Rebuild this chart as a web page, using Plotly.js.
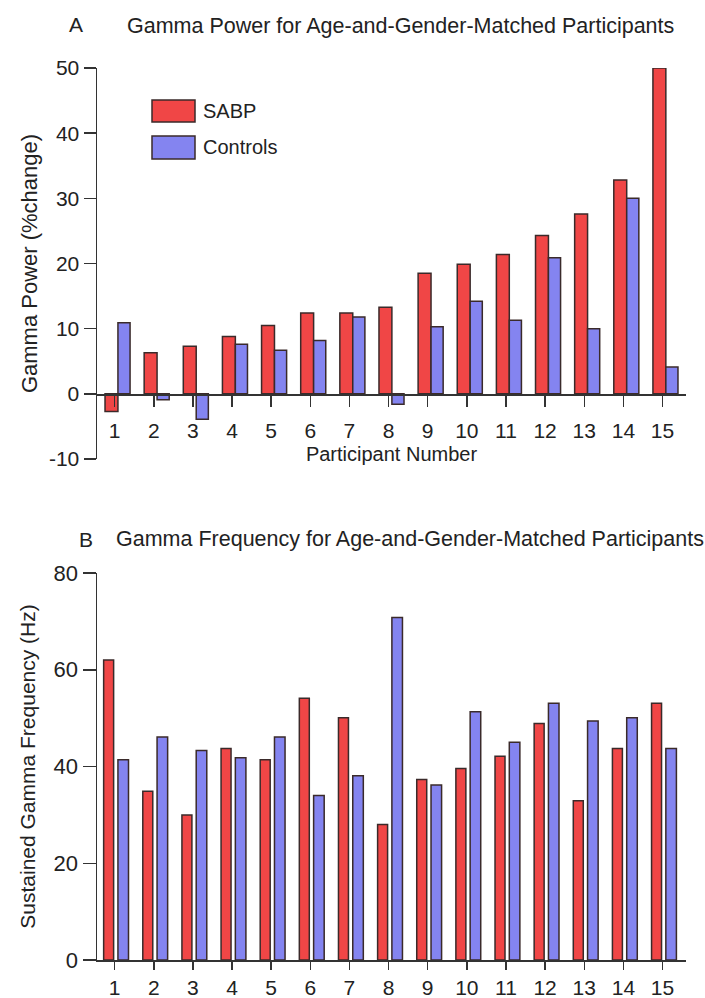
<!DOCTYPE html>
<html>
<head>
<meta charset="utf-8">
<script src="https://cdn.plot.ly/plotly-3.0.1.min.js"></script>
<style>html,body{margin:0;padding:0;background:#fff;}#chart{width:705px;height:998px;}</style>
</head>
<body>
<div id="chart"></div>
<script>
// ---- data ----
const participants = [1,2,3,4,5,6,7,8,9,10,11,12,13,14,15];
const participantLabels = ["1","2","3","4","5","6","7","8","9","10","11","12","13","14","15"];
const sabpPower     = [-2.7, 6.3, 7.3, 8.8, 10.5, 12.4, 12.4, 13.3, 18.5, 19.9, 21.4, 24.3, 27.6, 32.8, 50.0];
const controlsPower = [10.9, -0.9, -3.9, 7.6, 6.7, 8.2, 11.8, -1.6, 10.3, 14.2, 11.3, 20.9, 10.0, 30.0, 4.1];
const sabpFreq      = [62.0, 34.9, 30.0, 43.7, 41.4, 54.1, 50.1, 28.0, 37.3, 39.6, 42.1, 48.9, 32.9, 43.7, 53.1];
const controlsFreq  = [41.4, 46.1, 43.3, 41.8, 46.1, 34.0, 38.1, 70.8, 36.2, 51.3, 45.0, 53.1, 49.4, 50.1, 43.7];
const seriesNames = ["SABP", "Controls"];
const powerTicks = [-10, 0, 10, 20, 30, 40, 50];
const powerTickLabels = ["-10", "0", "10", "20", "30", "40", "50"];
const freqTicks = [0, 20, 40, 60, 80];
const freqTickLabels = ["0", "20", "40", "60", "80"];

// ---- styles ----
const FONT = "Liberation Sans, Arial, Helvetica, sans-serif";
const TXT = "#222";
const RED = "#f04646";
const BLUE = "#8484f0";
const EDGE = "#3a2a2a";

function bar(x, y, name, color, xa, ya, offset, width) {
  return {type: "bar", x: x, y: y, name: name, xaxis: xa, yaxis: ya,
    offset: offset, width: width, showlegend: false,
    marker: {color: color, line: {color: EDGE, width: 1.5}}};
}

const traces = [
  bar(participants, sabpPower, seriesNames[0], RED, "x", "y", -0.245, 0.33),
  bar(participants, controlsPower, seriesNames[1], BLUE, "x", "y", 0.085, 0.31),
  bar(participants, sabpFreq, seriesNames[0], RED, "x2", "y2", -0.28, 0.255),
  bar(participants, controlsFreq, seriesNames[1], BLUE, "x2", "y2", 0.085, 0.27)
];

const T = 68, B = 38, H = 998, W = 705, L = 97, R = 19;
const plotH = H - T - B, plotW = W - L - R;
const py = p => (H - B - p) / plotH;   // pixel y -> paper
const px = p => (p - L) / plotW;       // pixel x -> paper

const axisLine = {showline: true, linecolor: "#333", linewidth: 1.5, showgrid: false, zeroline: false,
  ticks: "outside", tickcolor: "#333", tickwidth: 1.5};

const layout = {
  width: W, height: H,
  margin: {l: L, r: R, t: T, b: B},
  paper_bgcolor: "#fff", plot_bgcolor: "#fff",
  font: {family: FONT, color: TXT},
  barmode: "overlay",
  title: {text: "Gamma Power for Age-and-Gender-Matched Participants",
    font: {size: 21.5, family: FONT, color: TXT},
    xref: "container", yref: "container", x: 127 / W, xanchor: "left", y: 1 - 25 / H, yanchor: "middle"},
  xaxis: Object.assign({}, axisLine, {
    domain: [0, 1], range: [0.55, 15.6], anchor: "free", position: py(394),
    tickmode: "array", tickvals: participants, ticktext: participantLabels, ticklen: 11,
    ticklabelstandoff: 6,
    tickfont: {size: 21, color: TXT},
    title: {text: "Participant Number", font: {size: 20, color: TXT}, standoff: 6}
  }),
  yaxis: Object.assign({}, axisLine, {
    domain: [py(459), 1], range: [-10, 50], anchor: "x",
    tickmode: "array", tickvals: powerTicks, ticktext: powerTickLabels, ticklen: 12,
    tickfont: {size: 21, color: TXT},
    title: {text: "Gamma Power (%change)", font: {size: 22, color: TXT}, standoff: 5}
  }),
  xaxis2: Object.assign({}, axisLine, {
    domain: [0, 1], range: [0.55, 15.6], anchor: "y2",
    tickmode: "array", tickvals: participants, ticktext: participantLabels, ticklen: 8,
    tickfont: {size: 21, color: TXT}
  }),
  yaxis2: Object.assign({}, axisLine, {
    domain: [0, py(573)], range: [0, 80], anchor: "x2",
    tickmode: "array", tickvals: freqTicks, ticktext: freqTickLabels, ticklen: 13,
    tickfont: {size: 22, color: TXT},
    title: {text: "Sustained Gamma Frequency (Hz)", font: {size: 21, color: TXT}, standoff: 12}
  }),
  shapes: [
    {type: "rect", xref: "paper", yref: "paper", x0: px(152), x1: px(195), y0: py(122), y1: py(100),
      fillcolor: RED, line: {color: EDGE, width: 1.5}},
    {type: "rect", xref: "paper", yref: "paper", x0: px(152), x1: px(195), y0: py(159), y1: py(136),
      fillcolor: BLUE, line: {color: EDGE, width: 1.5}}
  ],
  annotations: [
    {text: seriesNames[0], xref: "paper", yref: "paper", x: px(201), y: py(111), xanchor: "left", yanchor: "middle",
      showarrow: false, font: {size: 20, color: TXT}},
    {text: seriesNames[1], xref: "paper", yref: "paper", x: px(201), y: py(147), xanchor: "left", yanchor: "middle",
      showarrow: false, font: {size: 20, color: TXT}},
    {text: "A", xref: "paper", yref: "paper", x: px(67), y: py(25), xanchor: "left", yanchor: "middle",
      showarrow: false, font: {size: 21, color: TXT}},
    {text: "B", xref: "paper", yref: "paper", x: px(77), y: py(539), xanchor: "left", yanchor: "middle",
      showarrow: false, font: {size: 21, color: TXT}},
    {text: "Gamma Frequency for Age-and-Gender-Matched Participants", xref: "paper", yref: "paper",
      x: px(114), y: py(539), xanchor: "left", yanchor: "middle",
      showarrow: false, font: {size: 21.5, color: TXT}}
  ]
};

Plotly.newPlot("chart", traces, layout, {displayModeBar: false, staticPlot: true});
</script>
</body>
</html>
